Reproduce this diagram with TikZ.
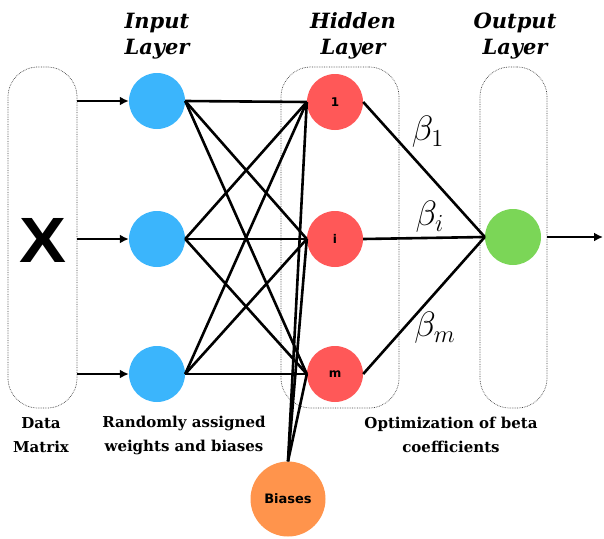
\documentclass[tikz,border=0pt]{standalone}
\usepackage{fontspec}
\usepackage{graphicx}
\usepackage{tikz}
\usetikzlibrary{arrows.meta}
\newfontfamily\headfont{DejaVu Serif}
\newfontfamily\neuronfont{DejaVu Sans}
\newfontfamily\bigfont{Liberation Sans}
\definecolor{inblue}{RGB}{59,181,252}
\definecolor{hidred}{RGB}{255,88,88}
\definecolor{outgreen}{RGB}{123,214,87}
\definecolor{biasorange}{RGB}{255,148,76}
\newcommand{\bigbeta}[1]{\scalebox{1.7}{$\beta_{#1}$}}

\begin{document}
\begin{tikzpicture}[x=1pt, y=-1pt,
    neuron/.style={circle, minimum size=56pt, inner sep=0pt, font=\neuronfont\bfseries\fontsize{12}{12}\selectfont},
    layerbox/.style={draw=black!75, densely dotted, line width=0.7pt, rounded corners=30pt, minimum height=341pt, inner sep=0pt},
    wire/.style={line width=2.6pt},
    feed/.style={line width=2.6pt, -{Latex[length=9pt,width=9pt]}},
    title/.style={font=\headfont\bfseries\itshape\fontsize{21}{26}\selectfont, align=center},
    note/.style={font=\headfont\bfseries\fontsize{15}{24}\selectfont, align=center}]
    \useasboundingbox (0,0) rectangle (604,538);

    % dotted frames
    \node[layerbox, minimum width=69pt] (data) at (42.5,237.5) {};
    \node[layerbox, minimum width=118pt] (hidbox) at (340,237.5) {};
    \node[layerbox, minimum width=67pt] (outbox) at (513.5,237.5) {};
    \node[font=\bigfont\bfseries\fontsize{64}{64}\selectfont] (x) at (43,240) {\scalebox{1.1}[1]{X}};

    % neurons
    \node[neuron, fill=inblue] (in1) at (157,101) {};
    \node[neuron, fill=inblue] (in2) at (157,239) {};
    \node[neuron, fill=inblue] (in3) at (157,374) {};
    \node[neuron, fill=hidred] (h1) at (335,102) {1};
    \node[neuron, fill=hidred] (h2) at (335,239) {i};
    \node[neuron, fill=hidred] (h3) at (335,374) {m};
    \node[neuron, fill=outgreen] (out) at (513,237) {};
    \node[neuron, fill=biasorange, minimum size=75pt, font=\neuronfont\bfseries\fontsize{13}{13}\selectfont] (bias) at (288,499) {Biases};
    \coordinate (yhat) at (603,237);

    % connections
    \foreach \i in {1,2,3} {
        \draw[feed] (data.east |- in\i) -- (in\i.west);
        \foreach \j in {1,2,3}
            \draw[wire] (in\i.east) -- (h\j.west);
        \draw[wire] (bias.north) -- (h\i.west);
        \draw[wire] (h\i.east) -- (out.west);
    }
    \draw[feed] (outbox.east |- out) -- (yhat);

    % weights of the output layer
    \node[font=\fontsize{20}{20}\selectfont] (b1) at (428,132) {\bigbeta{1}};
    \node[font=\fontsize{20}{20}\selectfont] (bi) at (430,217) {\bigbeta{i}};
    \node[font=\fontsize{20}{20}\selectfont] (bm) at (435,328) {\bigbeta{m}};

    % headings and captions
    \node[title] (tin) at (157,36) {Input\\Layer};
    \node[title] (thid) at (353,36) {Hidden\\Layer};
    \node[title] (tout) at (515,36) {Output\\Layer};
    \node[note] (cdata) at (41,435) {Data\\Matrix};
    \node[note] (cweights) at (184,435) {Randomly assigned\\weights and biases};
    \node[note] (cbeta) at (451,435) {Optimization of beta\\coefficients};
\end{tikzpicture}
\end{document}
